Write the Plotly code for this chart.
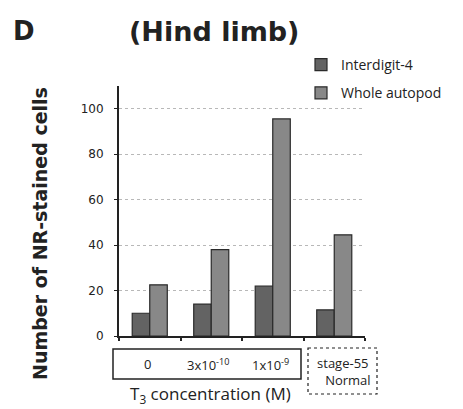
import plotly.graph_objects as go

categories = ["0", "3x10^-10", "1x10^-9", "stage-55 Normal"]
cat_labels = ["0", "3x10<sup>-10</sup>", "1x10<sup>-9</sup>", "stage-55<br>   Normal"]
interdigit = [10, 14, 22, 11.5]
whole = [22.5, 38, 95.5, 44.5]
series_names = ["Interdigit-4", "Whole autopod"]
y_ticks = [0, 20, 40, 60, 80, 100]

W, H = 463, 409
L, R, T, B = 119, 365, 86, 336

xpos = list(range(len(categories)))
boundaries = [i - 0.5 for i in range(len(categories) + 1)]


def px(x):
    return (x - L) / (R - L)


def py(y):
    return (B - y) / (B - T)


fig = go.Figure()
fig.add_trace(go.Bar(x=xpos, y=interdigit, name=series_names[0],
                     marker=dict(color="#636363", line=dict(color="#2a2a2a", width=1.2)),
                     legendgroup="a"))
fig.add_trace(go.Bar(x=xpos, y=whole, name=series_names[1],
                     marker=dict(color="#888888", line=dict(color="#2a2a2a", width=1.2)),
                     legendgroup="b"))

fig.update_layout(
    width=W, height=H,
    margin=dict(l=L, r=W - R, t=T, b=H - B),
    paper_bgcolor="white", plot_bgcolor="white",
    barmode="group", bargap=0.43, bargroupgap=0,
    font=dict(family="Open Sans", color="#222"),
    showlegend=True,
    legend=dict(x=px(301), y=py(49), xanchor="left", yanchor="top",
                font=dict(size=14, family="Open Sans", color="#222"),
                itemwidth=30, tracegroupgap=7, bgcolor="rgba(0,0,0,0)"),
    xaxis=dict(range=[-0.5, len(categories) - 0.5], tickvals=boundaries,
               showticklabels=False, showline=True, linecolor="#222", linewidth=2,
               ticks="outside", ticklen=3, tickwidth=1.5, tickcolor="#222",
               showgrid=False, zeroline=False),
    yaxis=dict(range=[0, 110], tickvals=y_ticks, showline=True, linecolor="#222",
               linewidth=2, ticks="outside", ticklen=3, tickcolor="#222",
               ticklabelstandoff=8,
               showgrid=True, gridcolor="#b8b8b8", griddash="dot", gridwidth=1,
               zeroline=False,
               tickfont=dict(size=12, family="DejaVu Sans", color="#222")),
)

fig.add_annotation(text="Number of NR-stained cells", xref="paper", yref="paper",
                   x=px(40), y=py(234), xanchor="center", yanchor="middle",
                   textangle=-90, showarrow=False,
                   font=dict(size=19, family="DejaVu Sans", color="#222", weight="bold"))
fig.add_annotation(text="D", xref="paper", yref="paper", x=px(11), y=py(31),
                   xanchor="left", yanchor="middle", showarrow=False,
                   font=dict(size=26, family="DejaVu Sans", color="#222", weight="bold"))
fig.add_annotation(text="(Hind limb)", xref="paper", yref="paper", x=px(214), y=py(31),
                   xanchor="center", yanchor="middle", showarrow=False,
                   font=dict(size=27, family="DejaVu Sans", color="#222", weight="bold"))

label_pos = [(147, 364), (208, 364), (270, 364), (343, 371)]
for i, (lab, (lx, ly)) in enumerate(zip(cat_labels, label_pos)):
    fig.add_annotation(text=lab, xref="paper", yref="paper", x=px(lx), y=py(ly),
                       xanchor="center", yanchor="middle", showarrow=False,
                       font=dict(size=13, family="Open Sans", color="#222"))

fig.add_annotation(text="T<sub>3</sub> concentration (M)", xref="paper", yref="paper",
                   x=px(210), y=py(394), xanchor="center", yanchor="middle",
                   showarrow=False, font=dict(size=17, family="Open Sans", color="#222"))

fig.add_shape(type="rect", xref="paper", yref="paper", x0=px(113), x1=px(301),
              y0=py(349), y1=py(379), line=dict(color="#222", width=1.5))
fig.add_shape(type="rect", xref="paper", yref="paper", x0=px(308), x1=px(377),
              y0=py(348), y1=py(394), line=dict(color="#222", width=1.2, dash="dot"))

fig.write_html("out.html")
